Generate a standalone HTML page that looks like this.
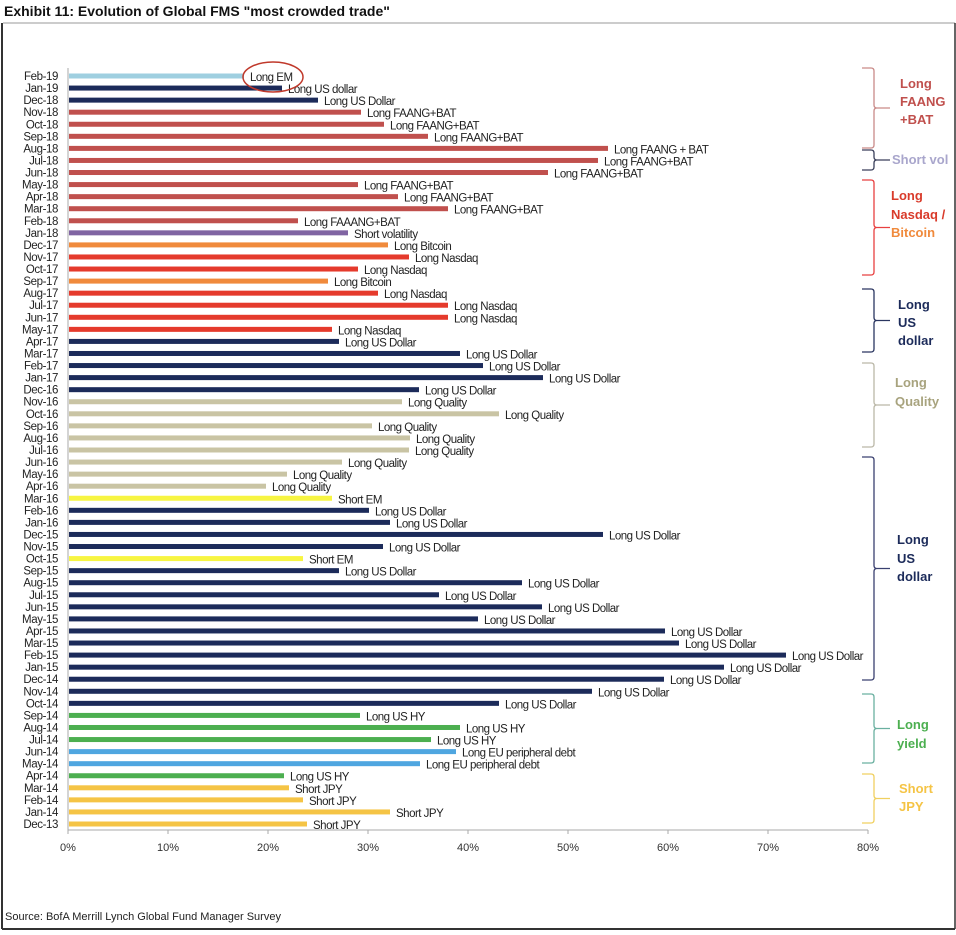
<!DOCTYPE html>
<html><head><meta charset="utf-8"><style>
html,body{margin:0;padding:0;background:#fff;}
body{width:956px;height:930px;overflow:hidden;font-family:"Liberation Sans",Arial,sans-serif;}
</style></head><body>
<svg id="chart" width="956" height="930" xmlns="http://www.w3.org/2000/svg" font-family="Liberation Sans, Arial, sans-serif">
<text x="4" y="16" font-size="14" font-weight="bold" fill="#111">Exhibit 11: Evolution of Global FMS "most crowded trade"</text>
<line x1="3" y1="23" x2="955" y2="23" stroke="#999" stroke-width="1"/>
<line x1="2" y1="23" x2="2" y2="929" stroke="#333" stroke-width="2"/>
<line x1="955" y1="23" x2="955" y2="929" stroke="#333" stroke-width="1.5"/>
<line x1="2" y1="929" x2="955" y2="929" stroke="#333" stroke-width="2"/>
<g id="plot"></g>
<text x="5" y="920" font-size="11" fill="#222">Source: BofA Merrill Lynch Global Fund Manager Survey</text>
</svg>
<script>
const months = ["Feb-19","Jan-19","Dec-18","Nov-18","Oct-18","Sep-18","Aug-18","Jul-18","Jun-18","May-18","Apr-18","Mar-18","Feb-18","Jan-18","Dec-17","Nov-17","Oct-17","Sep-17","Aug-17","Jul-17","Jun-17","May-17","Apr-17","Mar-17","Feb-17","Jan-17","Dec-16","Nov-16","Oct-16","Sep-16","Aug-16","Jul-16","Jun-16","May-16","Apr-16","Mar-16","Feb-16","Jan-16","Dec-15","Nov-15","Oct-15","Sep-15","Aug-15","Jul-15","Jun-15","May-15","Apr-15","Mar-15","Feb-15","Jan-15","Dec-14","Nov-14","Oct-14","Sep-14","Aug-14","Jul-14","Jun-14","May-14","Apr-14","Mar-14","Feb-14","Jan-14","Dec-13"];
const values = [17.6,21.4,25.0,29.3,31.6,36.0,54.0,53.0,48.0,29.0,33.0,38.0,23.0,28.0,32.0,34.1,29.0,26.0,31.0,38.0,38.0,26.4,27.1,39.2,41.5,47.5,35.1,33.4,43.1,30.4,34.2,34.1,27.4,21.9,19.8,26.4,30.1,32.2,53.5,31.5,23.5,27.1,45.4,37.1,47.4,41.0,59.7,61.1,71.8,65.6,59.6,52.4,43.1,29.2,39.2,36.3,38.8,35.2,21.6,22.1,23.5,32.2,23.9];
const trades = ["Long EM","Long US dollar","Long US Dollar","Long FAANG+BAT","Long FAANG+BAT","Long FAANG+BAT","Long FAANG + BAT","Long FAANG+BAT","Long FAANG+BAT","Long FAANG+BAT","Long FAANG+BAT","Long FAANG+BAT","Long FAAANG+BAT","Short volatility","Long Bitcoin","Long Nasdaq","Long Nasdaq","Long Bitcoin","Long Nasdaq","Long Nasdaq","Long Nasdaq","Long Nasdaq","Long US Dollar","Long US Dollar","Long US Dollar","Long US Dollar","Long US Dollar","Long Quality","Long Quality","Long Quality","Long Quality","Long Quality","Long Quality","Long Quality","Long Quality","Short EM","Long US Dollar","Long US Dollar","Long US Dollar","Long US Dollar","Short EM","Long US Dollar","Long US Dollar","Long US Dollar","Long US Dollar","Long US Dollar","Long US Dollar","Long US Dollar","Long US Dollar","Long US Dollar","Long US Dollar","Long US Dollar","Long US Dollar","Long US HY","Long US HY","Long US HY","Long EU peripheral debt","Long EU peripheral debt","Long US HY","Short JPY","Short JPY","Short JPY","Short JPY"];
const xTicks = [0,10,20,30,40,50,60,70,80];

const colorMap = {"Long EM":"#9fcfe0","Long US dollar":"#1c2b5a","Long US Dollar":"#1c2b5a","Long FAANG+BAT":"#c0504d","Long FAANG + BAT":"#c0504d","Long FAAANG+BAT":"#c0504d","Short volatility":"#8064a2","Long Bitcoin":"#f08a3c","Long Nasdaq":"#e53a2c","Long Quality":"#c9c4a4","Short EM":"#f7f542","Long US HY":"#4caf50","Long EU peripheral debt":"#4fa6e0","Short JPY":"#f5c445"};

const NS="http://www.w3.org/2000/svg";
const plot=document.getElementById('plot');
const x0=68, x1=868, y0=76, y1=824, xMax=80;
const xs=v=>x0+(v/xMax)*(x1-x0);
const ys=i=>y0+i*(y1-y0)/(months.length-1);
function mk(tag,attrs){const e=document.createElementNS(NS,tag);for(const k in attrs)e.setAttribute(k,attrs[k]);plot.appendChild(e);return e;}

let a=mk('line',{x1:x0,y1:68,x2:x0,y2:830,stroke:'#aaa','stroke-width':1});


a=mk('line',{x1:x0,y1:830,x2:x1,y2:830,stroke:'#aaa','stroke-width':1});


xTicks.forEach(t=>{
  const tk=mk('line',{x1:xs(t),y1:830,x2:xs(t),y2:834,stroke:'#aaa'});
  
  
  const tl=mk('text',{x:xs(t),y:851,'font-size':11,fill:'#333','text-anchor':'middle'});
  tl.textContent=t+'%';
  
  
});

months.forEach((m,i)=>{
  const y=ys(i);
  const lab=mk('text',{x:58,y:y+4,'font-size':11.5,fill:'#222','text-anchor':'end','letter-spacing':'-0.4'});
  lab.textContent=m;
  
  
  const b=mk('rect',{x:x0+1,y:y-2.5,width:xs(values[i])-x0-1,height:5,fill:colorMap[trades[i]]});
  
  
  const t=mk('text',{x:xs(values[i])+6,y:y+5,'font-size':11.5,fill:'#222','letter-spacing':'-0.5'});
  t.textContent=trades[i];
  
  
});

const el=mk('ellipse',{cx:xs(values[0])+29,cy:ys(0)+1,rx:30,ry:15,fill:'none',stroke:'#c0392b','stroke-width':1.5});



const braces=[
 {t:68,b:148,c:'#c98a88',lines:[['Long','#c0504d'],['FAANG','#c0504d'],['+BAT','#c0504d']],ty:[88,106,124],tx:900},
 {t:150,b:170,c:'#3a3f5a',lines:[['Short vol','#a9a6cc']],ty:[164],tx:892},
 {t:180,b:275,c:'#e84040',lines:[['Long','#d93b2b'],['Nasdaq /','#d93b2b'],['Bitcoin','#f08a3c']],ty:[200,219,237],tx:891},
 {t:289,b:352,c:'#2a3560',lines:[['Long','#1c2b5a'],['US','#1c2b5a'],['dollar','#1c2b5a']],ty:[309,327,345],tx:898},
 {t:363,b:447,c:'#bbb8a8',lines:[['Long','#a8a37e'],['Quality','#a8a37e']],ty:[387,406],tx:895},
 {t:457,b:680,c:'#3a4070',lines:[['Long','#1c2b5a'],['US','#1c2b5a'],['dollar','#1c2b5a']],ty:[544,563,581],tx:897},
 {t:694,b:763,c:'#6ab0a0',lines:[['Long','#4caf50'],['yield','#4caf50']],ty:[729,748],tx:897},
 {t:774,b:823,c:'#f0d060',lines:[['Short','#f5c445'],['JPY','#f5c445']],ty:[793,811],tx:899}
];
braces.forEach((br,k)=>{
  const m=(br.t+br.b)/2, X=874;
  const p=mk('path',{d:`M862 ${br.t} L${X-3} ${br.t} Q${X} ${br.t} ${X} ${br.t+3} L${X} ${m-3} Q${X} ${m} ${X+3} ${m} L890 ${m} M${X+3} ${m} Q${X} ${m} ${X} ${m+3} L${X} ${br.b-3} Q${X} ${br.b} ${X-3} ${br.b} L862 ${br.b}`,fill:'none',stroke:br.c,'stroke-width':1.3});
  
  
  br.lines.forEach((ln,j)=>{
    const t=mk('text',{x:br.tx,y:br.ty[j],'font-size':13,'font-weight':'bold',fill:ln[1]});
    t.textContent=ln[0];
    
    
  });
});
</script>
</body></html>
